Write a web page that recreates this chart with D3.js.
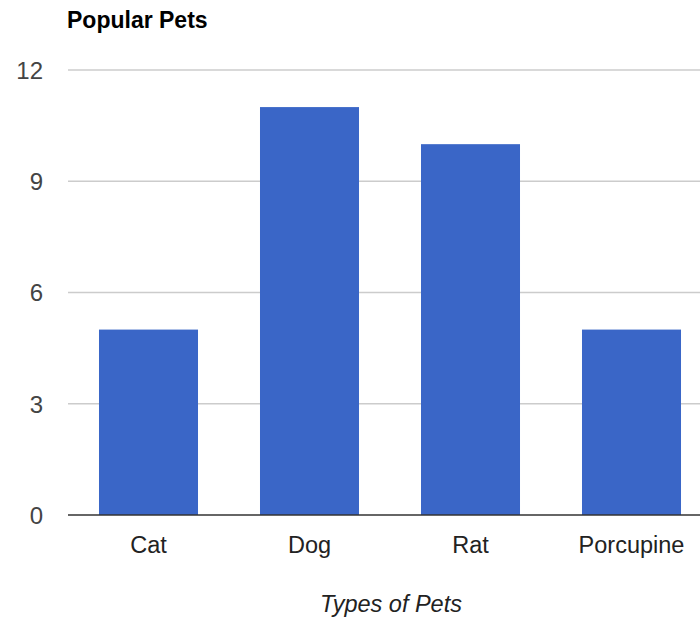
<!DOCTYPE html>
<html>
<head>
<meta charset="utf-8">
<script src="https://cdn.jsdelivr.net/npm/d3@7"></script>
<style>
  html, body { margin: 0; padding: 0; background: #fff; }
  svg { display: block; }
</style>
</head>
<body>
<svg id="chart" width="700" height="617"></svg>
<script>
// Pet counts by type
const pets = ["Cat", "Dog", "Rat", "Porcupine"];
const counts = [5, 11, 10, 5];
const yTicks = [0, 3, 6, 9, 12];
const chartTitle = "Popular Pets";
const xTitle = "Types of Pets";

const svg = d3.select("#chart");
const font = "'Liberation Sans', Arial, Helvetica, sans-serif";
const margin = { left: 68, right: -12, top: 70, bottom: 102 };
const W = 700, H = 617;

const x = d3.scaleBand()
  .domain(pets)
  .range([margin.left, W - margin.right])
  .paddingInner(0.385)
  .paddingOuter(0.1925);

const y = d3.scaleLinear()
  .domain([0, 12])
  .range([H - margin.bottom, margin.top]);

// horizontal gridlines
svg.append("g")
  .selectAll("line")
  .data(yTicks.filter(d => d !== 0))
  .join("line")
  .attr("x1", margin.left)
  .attr("x2", W)
  .attr("y1", d => y(d))
  .attr("y2", d => y(d))
  .attr("stroke", "#cccccc")
  .attr("stroke-width", 1.5);

// y tick labels
const yAxis = d3.axisLeft(y).tickValues(yTicks).tickSize(0).tickPadding(0);
const gy = svg.append("g")
  .attr("transform", `translate(${margin.left - 25},0)`)
  .call(yAxis);
gy.select(".domain").remove();
gy.selectAll("text")
  .attr("font-family", font)
  .attr("font-size", 24)
  .attr("fill", "#444")
  .attr("dy", "0.35em");

// bars
svg.append("g")
  .selectAll("rect")
  .data(pets.map((p, i) => ({ p, v: counts[i] })))
  .join("rect")
  .attr("x", d => x(d.p))
  .attr("width", x.bandwidth())
  .attr("y", d => y(d.v))
  .attr("height", d => y(0) - y(d.v))
  .attr("fill", "#3a66c7");

// baseline
svg.append("line")
  .attr("x1", margin.left)
  .attr("x2", W)
  .attr("y1", y(0))
  .attr("y2", y(0))
  .attr("stroke", "#333")
  .attr("stroke-width", 1.5);

// x category labels
const xAxis = d3.axisBottom(x).tickSize(0).tickPadding(0);
const gx = svg.append("g")
  .attr("transform", `translate(0,${y(0) + 38})`)
  .call(xAxis);
gx.select(".domain").remove();
gx.selectAll("text")
  .attr("font-family", font)
  .attr("font-size", 23.5)
  .attr("fill", "#222")
  .attr("dy", 0);

// chart title
svg.append("text")
  .attr("x", margin.left - 1)
  .attr("y", 28)
  .attr("font-family", font)
  .attr("font-size", 23)
  .attr("font-weight", "bold")
  .attr("fill", "#000")
  .text(chartTitle);

// x axis title
svg.append("text")
  .attr("x", 391)
  .attr("y", 612)
  .attr("text-anchor", "middle")
  .attr("font-family", font)
  .attr("font-size", 23.5)
  .attr("font-style", "italic")
  .attr("fill", "#222")
  .text(xTitle);
</script>
</body>
</html>
